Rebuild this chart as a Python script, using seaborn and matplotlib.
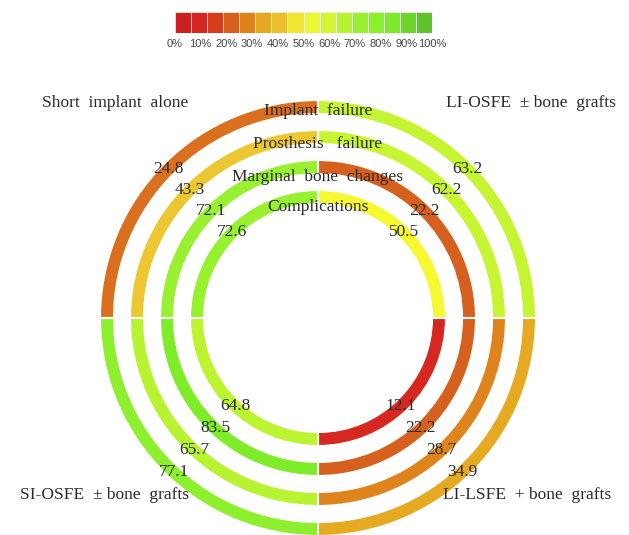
import numpy as np
import matplotlib
matplotlib.use('Agg')
import matplotlib.pyplot as plt
from matplotlib.colors import LinearSegmentedColormap
from matplotlib.patches import Wedge, Rectangle
import seaborn as sns

# data
groups = ["Short  implant  alone", "LI-OSFE  \u00b1 bone  grafts",
          "LI-LSFE  + bone  grafts", "SI-OSFE  \u00b1 bone  grafts"]
outcomes = ["Implant  failure", "Prosthesis   failure",
            "Marginal  bone  changes", "Complications"]
short_implant = [24.8, 43.3, 72.1, 72.6]
li_osfe = [63.2, 62.2, 22.2, 50.5]
li_lsfe = [34.9, 28.7, 22.2, 12.1]
si_osfe = [77.1, 65.7, 83.5, 64.8]
cbar_ticks = [0, 10, 20, 30, 40, 50, 60, 70, 80, 90, 100]

sns.set_theme(style="white")
plt.rcParams['font.family'] = ['Liberation Serif', 'DejaVu Serif']

cmap = LinearSegmentedColormap.from_list("rdylgn_custom", [
    (0.0, "#c81e1e"), (0.12, "#d62820"), (0.22, "#d6601e"), (0.29, "#e0861c"),
    (0.35, "#e6aa22"), (0.43, "#ecc632"), (0.5, "#f8f832"), (0.63, "#c6f532"),
    (0.72, "#98f030"), (0.83, "#80ee2a"), (1.0, "#5ab82a")])

fig = plt.figure(figsize=(6.29, 5.35), dpi=100)
ax = fig.add_axes([0, 0, 1, 1])
ax.set_xlim(0, 629)
ax.set_ylim(0, 535)
ax.set_aspect('equal')
ax.axis('off')

cx, cy = 318, 535 - 318
outer_r = [218, 188, 158, 128]
width = 14
# quadrant angle ranges (deg, counter-clockwise from east)
quads = [(90, 180), (0, 90), (270, 360), (180, 270)]
label_ang = [135, 45, -47, 227]
series = [short_implant, li_osfe, li_lsfe, si_osfe]

for (t1, t2), vals, la in zip(quads, series, label_ang):
    for r, v in zip(outer_r, vals):
        ax.add_patch(Wedge((cx, cy), r, t1, t2, width=width,
                           facecolor=cmap(v / 100), edgecolor='white', lw=1.5))
        rr = r - width / 2
        a = np.deg2rad(la)
        ax.text(cx + rr * np.cos(a), cy + rr * np.sin(a), f"{v:.1f}",
                ha='center', va='center', fontsize=12.5, color='#2a2a2a', zorder=5)

# ring names at top
for name, ry in zip(outcomes, [207, 174, 141, 111]):
    ax.text(cx, cy + ry, name, ha='center', va='center', fontsize=12.5,
            color='#2a2a2a', zorder=5)

# group names
pos = [(115, 535 - 103), (531, 535 - 103), (527, 535 - 495), (105, 535 - 495)]
for g, (x, y) in zip(groups, pos):
    ax.text(x, y, g, ha='center', va='center', fontsize=12.5, color='#2a2a2a')

# colour bar
cax = fig.add_axes([175 / 629, 1 - 33 / 535, 257 / 629, 21 / 535])
n_seg = 16
edges = np.linspace(0, 100, n_seg + 1)
for i in range(n_seg):
    mid = (edges[i] + edges[i + 1]) / 2
    cax.add_patch(Rectangle((edges[i], 0), edges[i + 1] - edges[i], 1,
                            facecolor=cmap(mid / 100), edgecolor='#f0f0f0', lw=0.5))
cax.set_xlim(0, 100)
cax.set_ylim(0, 1)
cax.axis('off')
for t in cbar_ticks:
    cax.text(t, -0.3, f"{t}%", ha='center', va='top', fontsize=8,
             color='#444444', family=['Liberation Sans', 'DejaVu Sans'])

fig.savefig('out.png', dpi=100)
